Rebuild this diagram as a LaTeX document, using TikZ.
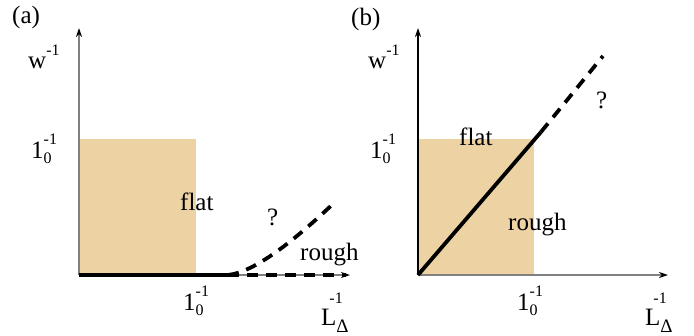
\documentclass[tikz,border=0pt]{standalone}
\usepackage{fontspec}
\setmainfont{Liberation Serif}
\usetikzlibrary{arrows.meta}
\definecolor{tan}{HTML}{EDD2A4}
\newcommand\scr[1]{{\fontsize{16}{16}\selectfont #1}}
\newcommand\lzero{1\rlap{\raisebox{-5pt}{\scr{0}}}\raisebox{14pt}{\scr{-1}}}
\newcommand\winv{w\raisebox{13pt}{\scr{-1}}}
\newcommand\Linv{L\rlap{\raisebox{-7pt}{\fontsize{19}{19}\selectfont Δ}}\kern-7pt\raisebox{22pt}{\scr{-1}}}
\tikzset{
  axis/.style={draw=black!50,line width=1.3pt,-{Stealth[length=9pt,width=6pt,color=black]}},
  regime/.style={fill=tan},
  lbl/.style={font=\fontsize{25}{30}\selectfont,inner sep=0pt,anchor=base west},
  phase/.style={line width=3.8pt},
  guess/.style={line width=3.8pt,dash pattern=on 11pt off 8pt}
}
\begin{document}
\begin{tikzpicture}[x=1pt,y=-1pt]
\useasboundingbox (0,0) rectangle (694,335);
% panel (a)
\coordinate (a0) at (79,275);
\coordinate (ay) at (79,28);
\coordinate (ax) at (350,275);
\coordinate (ac) at (228,275);
\coordinate (ae) at (335,202);
\coordinate (ah) at (346,275);
\fill[regime] (79,139) rectangle (196,275);
\draw[axis] (a0) -- (ay);
\draw[axis] (a0) -- (ax);
\draw[phase] (a0) -- (ac);
\draw[guess] (ac) -- (ah);
\draw[guess] (ac) .. controls (255,272) and (295,240) .. (ae);
\node[lbl] (alab) at (12,23) {(a)};
\node[lbl] (aw) at (28,68) {\winv};
\node[lbl] (ayt) at (31,158) {\lzero};
\node[lbl] (axt) at (183,310) {\lzero};
\node[lbl] (aL) at (321,325) {\Linv};
\node[lbl] (aflat) at (180,210) {flat};
\node[lbl] (aq) at (267,225) {?};
\node[lbl] (arough) at (300,260) {rough};
% panel (b)
\coordinate (b0) at (418,275);
\coordinate (by) at (418,28);
\coordinate (bx) at (668,275);
\coordinate (bc) at (541,132);
\coordinate (be) at (603,56);
\fill[regime] (418,139) rectangle (534,275);
\draw[axis,draw=black] (b0) -- (by);
\draw[axis] (b0) -- (bx);
\draw[phase] (b0) -- (bc);
\draw[guess] (bc) -- (be);
\node[lbl] (blab) at (351,25) {(b)};
\node[lbl] (bw) at (368,68) {\winv};
\node[lbl] (byt) at (370,158) {\lzero};
\node[lbl] (bxt) at (517,310) {\lzero};
\node[lbl] (bL) at (645,325) {\Linv};
\node[lbl] (bflat) at (459,145) {flat};
\node[lbl] (bq) at (596,108) {?};
\node[lbl] (brough) at (508,230) {rough};
\end{tikzpicture}
\end{document}
